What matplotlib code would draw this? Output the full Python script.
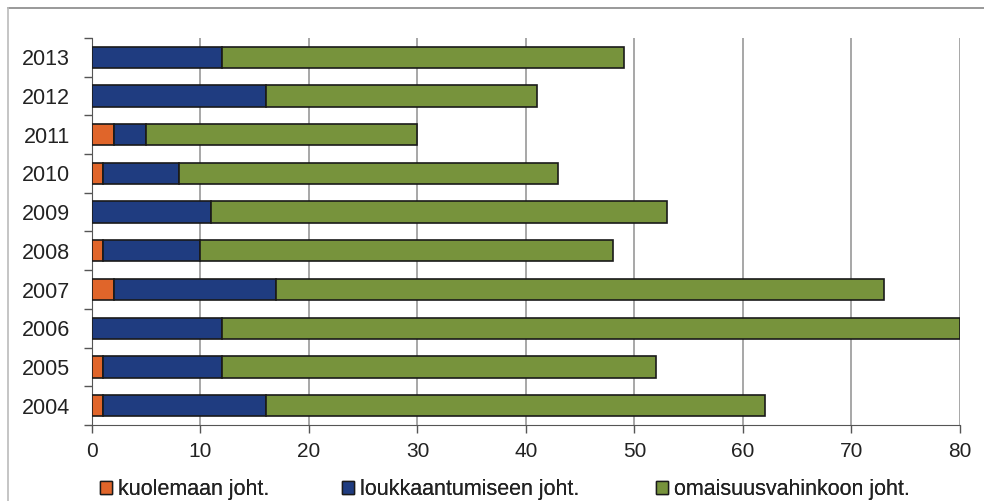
import numpy as np
import matplotlib
matplotlib.use("Agg")
import matplotlib.pyplot as plt
from matplotlib.lines import Line2D
from matplotlib.patches import Patch

# Data
years = ['2004', '2005', '2006', '2007', '2008', '2009', '2010', '2011', '2012', '2013']
kuolema = [1, 1, 0, 2, 1, 0, 1, 2, 0, 0]
loukkaantuminen = [15, 11, 12, 15, 9, 11, 7, 3, 16, 12]
omaisuus = [46, 40, 68, 56, 38, 42, 35, 25, 25, 37]
labels = ['kuolemaan joht.', 'loukkaantumiseen joht.', 'omaisuusvahinkoon joht.']
colors = ['#E0652A', '#1F3C80', '#77933C']

plt.rcParams['font.family'] = ['Liberation Sans', 'DejaVu Sans']

fig = plt.figure(figsize=(9.84, 5.01), dpi=100)
ax = fig.add_axes([0.0935, 0.1517, 0.882, 0.7725])

y = np.arange(len(years))
left = np.zeros(len(years))
for vals, c, lab in zip([kuolema, loukkaantuminen, omaisuus], colors, labels):
    ax.barh(y, vals, left=left, height=0.55, color=c, edgecolor='#1a1a1a', linewidth=1.2, label=lab, zorder=3)
    left = left + np.array(vals)

ax.set_xlim(0, 80)
ax.set_ylim(-0.5, len(years) - 0.5)
ax.set_xticks(np.arange(0, 81, 10))
ax.set_yticks(y)
ax.set_yticklabels(years)
ax.set_yticks(np.arange(-0.5, len(years), 1), minor=True)
ax.tick_params(axis='y', which='major', length=0, labelsize=15.5, pad=16, labelcolor='#222222')
ax.tick_params(axis='y', which='minor', length=6, color='#555555', width=1)
ax.tick_params(axis='x', length=6, color='#555555', width=1, labelsize=15, pad=6, labelcolor='#222222')
ax.xaxis.grid(True, color='#a0a0a0', linewidth=1.3, zorder=0)
for s in ['top', 'right']:
    ax.spines[s].set_visible(False)
ax.spines['left'].set_color('#555555')
ax.spines['bottom'].set_color('#555555')

# legend entries placed one by one along the bottom
leg_x = [100, 342, 656]
for c, l, xp in zip(colors, labels, leg_x):
    h = [Patch(facecolor=c, edgecolor='#1a1a1a', label=l)]
    lg = fig.legend(handles=h, loc='center left', bbox_to_anchor=(xp / 984, 0.022), frameon=False,
                    fontsize=15.5, handlelength=0.55, handleheight=0.55, handletextpad=0.3,
                    borderpad=0, borderaxespad=0, labelcolor='#222222')
    fig.add_artist(lg)

# outer frame of the picture
fig.add_artist(Line2D([8 / 984, 1], [1 - 8 / 501, 1 - 8 / 501], transform=fig.transFigure, color='#888888', lw=1.2))
fig.add_artist(Line2D([8 / 984, 8 / 984], [0, 1 - 8 / 501], transform=fig.transFigure, color='#bbbbbb', lw=1.2))

plt.savefig('out.png', dpi=100)
